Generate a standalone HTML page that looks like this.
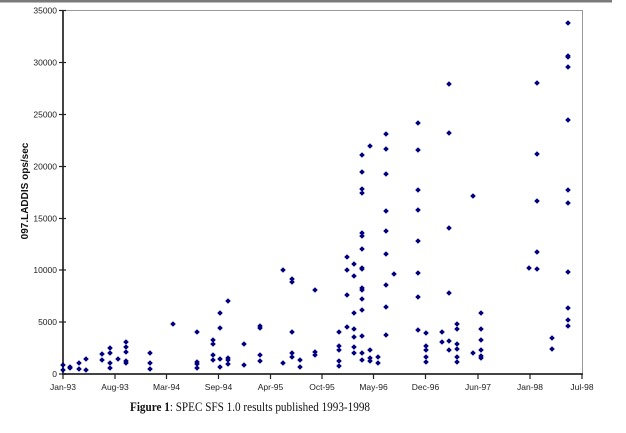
<!DOCTYPE html>
<html><head><meta charset="utf-8"><style>
html,body{margin:0;padding:0;background:#fff;}
svg{display:block;}
</style></head><body>
<svg width="626" height="433" viewBox="0 0 626 433" xmlns="http://www.w3.org/2000/svg">
<rect x="0" y="0" width="612" height="2.5" fill="#7a7a7a"/>
<line x1="63" y1="10.5" x2="582" y2="10.5" stroke="#999" stroke-width="1"/>
<line x1="582.5" y1="10" x2="582.5" y2="374" stroke="#999" stroke-width="1"/>
<line x1="63" y1="10" x2="63" y2="375" stroke="#444" stroke-width="2"/>
<line x1="62" y1="374" x2="583" y2="374" stroke="#444" stroke-width="2"/>
<g stroke="#222" stroke-width="1.2">
<line x1="59" y1="10.5" x2="66" y2="10.5"/>
<line x1="59" y1="62.5" x2="66" y2="62.5"/>
<line x1="59" y1="114.5" x2="66" y2="114.5"/>
<line x1="59" y1="166.5" x2="66" y2="166.5"/>
<line x1="59" y1="218.5" x2="66" y2="218.5"/>
<line x1="59" y1="270" x2="66" y2="270"/>
<line x1="59" y1="322" x2="66" y2="322"/>
<line x1="59" y1="374" x2="66" y2="374"/>
<line x1="63" y1="374" x2="63" y2="379"/>
<line x1="115" y1="374" x2="115" y2="379"/>
<line x1="166.5" y1="374" x2="166.5" y2="379"/>
<line x1="218.5" y1="374" x2="218.5" y2="379"/>
<line x1="270.5" y1="374" x2="270.5" y2="379"/>
<line x1="322" y1="374" x2="322" y2="379"/>
<line x1="373.5" y1="374" x2="373.5" y2="379"/>
<line x1="425.5" y1="374" x2="425.5" y2="379"/>
<line x1="478" y1="374" x2="478" y2="379"/>
<line x1="530" y1="374" x2="530" y2="379"/>
<line x1="582" y1="374" x2="582" y2="379"/>
</g>
<g font-family="Liberation Sans, sans-serif" font-size="8.5" fill="#222" text-anchor="end">
<text x="57" y="13.5">35000</text>
<text x="57" y="65.5">30000</text>
<text x="57" y="117.5">25000</text>
<text x="57" y="169.5">20000</text>
<text x="57" y="221.5">15000</text>
<text x="57" y="273">10000</text>
<text x="57" y="325">5000</text>
<text x="57" y="377">0</text>
</g>
<g font-family="Liberation Sans, sans-serif" font-size="8.5" fill="#222" text-anchor="middle">
<text x="63" y="390">Jan-93</text>
<text x="115" y="390">Aug-93</text>
<text x="166.5" y="390">Mar-94</text>
<text x="218.5" y="390">Sep-94</text>
<text x="270.5" y="390">Apr-95</text>
<text x="322" y="390">Oct-95</text>
<text x="373.5" y="390">May-96</text>
<text x="425.5" y="390">Dec-96</text>
<text x="478" y="390">Jun-97</text>
<text x="530" y="390">Jan-98</text>
<text x="582" y="390">Jul-98</text>
</g>
<text transform="translate(28,191) rotate(-90)" font-family="Liberation Sans, sans-serif" font-size="10" font-weight="bold" fill="#111" text-anchor="middle">097.LADDIS ops/sec</text>
<text x="130" y="411" font-family="Liberation Serif, serif" font-size="13" fill="#111" textLength="240" lengthAdjust="spacingAndGlyphs"><tspan font-weight="bold">Figure 1</tspan>:  SPEC SFS 1.0 results published 1993-1998</text>
<g fill="#000080" id="pts"></g>
<script>
var d={63:[365,370],70:[367,368],79:[363,369],86:[359,370],102:[354,360],110:[348,353,363,368],118:[359],126:[342,347,352,361,363],150:[353,363,369],173:[324],197:[332,362,364,368],213:[340,344,355,360],220:[313,328,359,367],228:[301,358,360,364],244:[344,365],260:[326,328,355,361],283:[270,363],292:[279,282,332,353,357],300:[360,367],315:[290,352,355],339:[332,346,350,361,366],347:[257,270,295,327],354:[264,276,313,329,337,347,353],362:[155,172,189,193,233,236,249,268,269,288,290,299,310,336,353,360],370:[146,350,358,361],378:[357,363],386:[134,149,174,211,231,254,285,307,335],394:[274],418:[123,150,190,210,241,273,297,330],426:[333,346,350,357,362],442:[332,342],449:[84,133,228,293,341,350],457:[324,329,344,349,357,362],473:[196,353],481:[313,329,340,350,356,358],529:[268],537:[83,154,201,252,269],552:[338,349],568:[23,56,57,67,120,190,203,272,308,320,326]};
var p='';for(var x in d){d[x].forEach(function(y){var X=+x;p+='M'+X+' '+(y-2.8)+'L'+(X+2.8)+' '+y+'L'+X+' '+(y+2.8)+'L'+(X-2.8)+' '+y+'Z';});}
var e=document.createElementNS('http://www.w3.org/2000/svg','path');e.setAttribute('d',p);document.getElementById('pts').appendChild(e);
</script>
</svg>
</body></html>
